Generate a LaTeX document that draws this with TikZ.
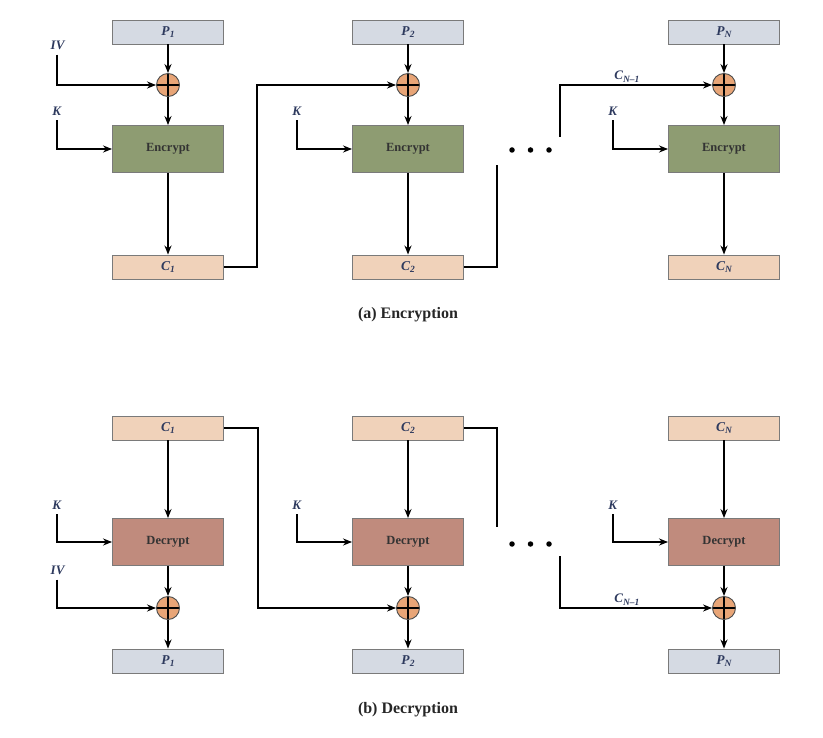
\documentclass[tikz,border=0pt]{standalone}
\usepackage{fontspec}
\setmainfont{Liberation Serif}
\usetikzlibrary{arrows.meta}
\definecolor{pfill}{HTML}{D5DAE3}
\definecolor{cfill}{HTML}{F0D2BA}
\definecolor{efill}{HTML}{8E9C72}
\definecolor{dfill}{HTML}{C08B7D}
\definecolor{xfill}{HTML}{E8A577}
\definecolor{boxline}{HTML}{7A7A7A}
\definecolor{labc}{HTML}{2E3A5E}
\definecolor{boxtxt}{HTML}{333333}
\newcommand{\lab}[2]{\textbf{\textit{#1}}\raisebox{-0.45ex}{\fontsize{9.5}{9.5}\selectfont\bfseries\itshape #2}}
\tikzset{
  databox/.style={draw=boxline, line width=0.9pt, minimum width=111pt, minimum height=24pt, inner sep=0pt,
     font=\fontsize{13.5}{14}\selectfont, text=labc},
  pbox/.style={databox, fill=pfill},
  cbox/.style={databox, fill=cfill},
  cryptbox/.style={draw=boxline, line width=0.9pt, minimum width=111pt, minimum height=47pt, inner sep=0pt,
     font=\fontsize{12.5}{13}\selectfont\bfseries, text=boxtxt},
  encbox/.style={cryptbox, fill=efill},
  decbox/.style={cryptbox, fill=dfill},
  xorop/.style={circle, draw=black!70, line width=0.9pt, fill=xfill, minimum size=23pt, inner sep=0pt,
     path picture={\draw[line width=1.8pt,black] (path picture bounding box.north) -- (path picture bounding box.south)
        (path picture bounding box.west) -- (path picture bounding box.east);}},
  inlab/.style={font=\fontsize{13}{13}\selectfont, text=labc, inner sep=1pt},
  arr/.style={line width=1.7pt, -{Stealth[length=9pt,width=7pt]}},
  thinarr/.style={line width=1.3pt, -{Stealth[length=9pt,width=7pt]}},
  ln/.style={line width=1.3pt},
  capt/.style={font=\fontsize{16}{18}\selectfont\bfseries, text=black!85},
  dotc/.style={circle, fill=black, minimum size=5.5pt, inner sep=0pt}
}
\begin{document}
\begin{tikzpicture}[x=1pt,y=-1pt]
\useasboundingbox (0,0) rectangle (823,738);
% ---------------- Encryption ----------------
\node[pbox] (p1) at (168,32) {\lab{P}{1}};
\node[pbox] (p2) at (408,32) {\lab{P}{2}};
\node[pbox] (pn) at (724,32) {\lab{P}{N}};
\node[xorop] (x1) at (168,85) {};
\node[xorop] (x2) at (408,85) {};
\node[xorop] (x3) at (724,85) {};
\node[encbox] (e1) at (168,149) {Encrypt};
\node[encbox] (e2) at (408,149) {Encrypt};
\node[encbox] (e3) at (724,149) {Encrypt};
\node[cbox] (c1) at (168,267) {\lab{C}{1}};
\node[cbox] (c2) at (408,267) {\lab{C}{2}};
\node[cbox] (cn) at (724,267) {\lab{C}{N}};
\node[inlab] (iv) at (58,45) {\textbf{\textit{IV}}};
\node[inlab] (k1) at (57,111) {\textbf{\textit{K}}};
\node[inlab] (k2) at (297,111) {\textbf{\textit{K}}};
\node[inlab] (k3) at (613,111) {\textbf{\textit{K}}};
\draw[arr] (p1) -- (x1);
\draw[arr] (p2) -- (x2);
\draw[arr] (pn) -- (x3);
\draw[arr] (x1) -- (e1);
\draw[arr] (x2) -- (e2);
\draw[arr] (x3) -- (e3);
\draw[arr] (e1) -- (c1);
\draw[arr] (e2) -- (c2);
\draw[arr] (e3) -- (cn);
\draw[arr] ([yshift=-4pt]iv.south -| 57,0) |- (x1.west);
\draw[arr] ([yshift=-4pt]k1.south) |- (e1.west);
\draw[arr] ([yshift=-4pt]k2.south) |- (e2.west);
\draw[arr] ([yshift=-4pt]k3.south) |- (e3.west);
\draw[thinarr] (c1.east) -- ++(33,0) |- (x2.west);
\coordinate (ea) at (497,165);
\coordinate (sa) at (560,137);
\draw[ln] (c2.east) -| (ea);
\draw[thinarr] (sa) |- node[pos=0.72, above, inlab, yshift=1pt] (cnm1a) {\lab{C}{N--1}} (x3.west);
\node[dotc] (da1) at (512,150) {};
\node[dotc] (da2) at (530.5,150) {};
\node[dotc] (da3) at (549,150) {};
\node[capt] (capa) at (408,315) {(a) Encryption};
% ---------------- Decryption ----------------
\node[cbox] (bc1) at (168,428) {\lab{C}{1}};
\node[cbox] (bc2) at (408,428) {\lab{C}{2}};
\node[cbox] (bcn) at (724,428) {\lab{C}{N}};
\node[decbox] (d1) at (168,542) {Decrypt};
\node[decbox] (d2) at (408,542) {Decrypt};
\node[decbox] (d3) at (724,542) {Decrypt};
\node[xorop] (y1) at (168,608) {};
\node[xorop] (y2) at (408,608) {};
\node[xorop] (y3) at (724,608) {};
\node[pbox] (bp1) at (168,661) {\lab{P}{1}};
\node[pbox] (bp2) at (408,661) {\lab{P}{2}};
\node[pbox] (bpn) at (724,661) {\lab{P}{N}};
\node[inlab] (bk1) at (57,505) {\textbf{\textit{K}}};
\node[inlab] (bk2) at (297,505) {\textbf{\textit{K}}};
\node[inlab] (bk3) at (613,505) {\textbf{\textit{K}}};
\node[inlab] (biv) at (58,570) {\textbf{\textit{IV}}};
\draw[arr] (bc1) -- (d1);
\draw[arr] (bc2) -- (d2);
\draw[arr] (bcn) -- (d3);
\draw[arr] (d1) -- (y1);
\draw[arr] (d2) -- (y2);
\draw[arr] (d3) -- (y3);
\draw[arr] (y1) -- (bp1);
\draw[arr] (y2) -- (bp2);
\draw[arr] (y3) -- (bpn);
\draw[arr] ([yshift=-4pt]bk1.south) |- (d1.west);
\draw[arr] ([yshift=-4pt]bk2.south) |- (d2.west);
\draw[arr] ([yshift=-4pt]bk3.south) |- (d3.west);
\draw[arr] ([yshift=-4pt]biv.south -| 57,0) |- (y1.west);
\draw[thinarr] (bc1.east) -- ++(34,0) |- (y2.west);
\coordinate (eb) at (497,527);
\coordinate (sb) at (560,556);
\draw[ln] (bc2.east) -| (eb);
\draw[thinarr] (sb) |- node[pos=0.72, above, inlab, yshift=1pt] (cnm1b) {\lab{C}{N--1}} (y3.west);
\node[dotc] (db1) at (512,544) {};
\node[dotc] (db2) at (530.5,544) {};
\node[dotc] (db3) at (549,544) {};
\node[capt] (capb) at (408,710) {(b) Decryption};
\end{tikzpicture}
\end{document}
